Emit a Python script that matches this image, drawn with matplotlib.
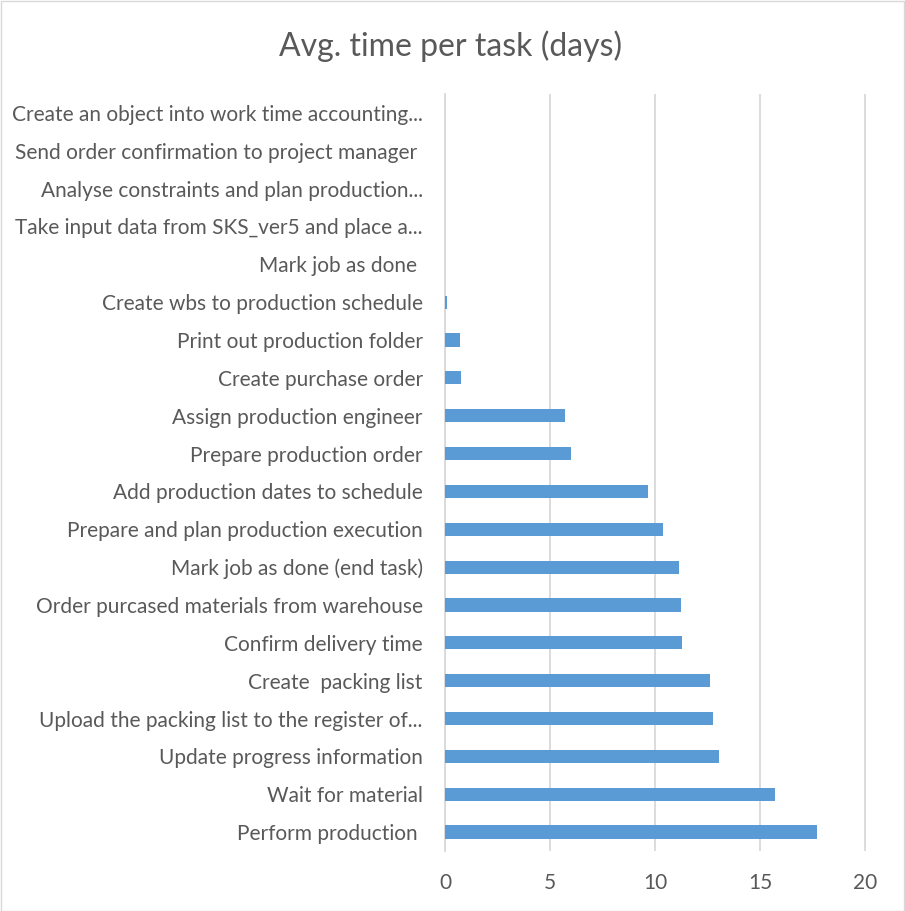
import matplotlib
matplotlib.use("Agg")
import matplotlib.pyplot as plt
from matplotlib.patches import Rectangle

tasks = [
    "Perform production ",
    "Wait for material",
    "Update progress information",
    "Upload the packing list to the register of...",
    "Create  packing list",
    "Confirm delivery time",
    "Order purcased materials from warehouse",
    "Mark job as done (end task)",
    "Prepare and plan production execution",
    "Add production dates to schedule",
    "Prepare production order",
    "Assign production engineer",
    "Create purchase order",
    "Print out production folder",
    "Create wbs to production schedule",
    "Mark job as done ",
    "Take input data from SKS_ver5 and place a...",
    "Analyse constraints and plan production...",
    "Send order confirmation to project manager ",
    "Create an object into work time accounting...",
]
days = [17.7, 15.7, 13.05, 12.75, 12.6, 11.3, 11.25, 11.13, 10.37, 9.67,
        6.02, 5.71, 0.75, 0.71, 0.1, 0.0, 0.0, 0.0, 0.0, 0.0]
xticks = [0, 5, 10, 15, 20]
title = "Avg. time per task (days)"

W, H = 905, 911
fig = plt.figure(figsize=(W / 100, H / 100), dpi=100)
fig.patches.append(Rectangle((0.5 / W, 0.5 / H), 1 - 1.5 / W, 1 - 1.5 / H,
                             transform=fig.transFigure, fill=False,
                             edgecolor="#d9d9d9", linewidth=1))

left, right, top, bottom = 445, 870, 94, 851
ax = fig.add_axes([left / W, 1 - bottom / H, (right - left) / W, (bottom - top) / H])

txt = "#595959"
ax.barh(range(len(tasks)), days, height=0.35, color="#5b9bd5", zorder=3)
ax.set_xlim(0, 20 * (right - left) / 420)
ax.set_ylim(-0.5, len(tasks) - 0.5)
ax.set_xticks(xticks)
ax.set_xticklabels([str(t) for t in xticks])
ax.set_yticks(range(len(tasks)))
ax.set_yticklabels(tasks)
ax.grid(axis="x", color="#d9d9d9", linewidth=1.3, zorder=0)
for s in ["top", "right", "bottom"]:
    ax.spines[s].set_visible(False)
ax.spines["left"].set_color("#d9d9d9")
ax.spines["left"].set_linewidth(1.3)
ax.tick_params(axis="both", length=0, colors=txt, labelsize=15)
ax.tick_params(axis="y", pad=16)
ax.tick_params(axis="x", pad=16)
for lab in ax.get_xticklabels() + ax.get_yticklabels():
    lab.set_fontfamily("Lato")
    lab.set_color(txt)

fig.text(451 / W, 1 - 46 / H, title, ha="center", va="center",
         fontsize=23, color=txt, fontfamily="Lato")

fig.savefig("out.png", dpi=100)
